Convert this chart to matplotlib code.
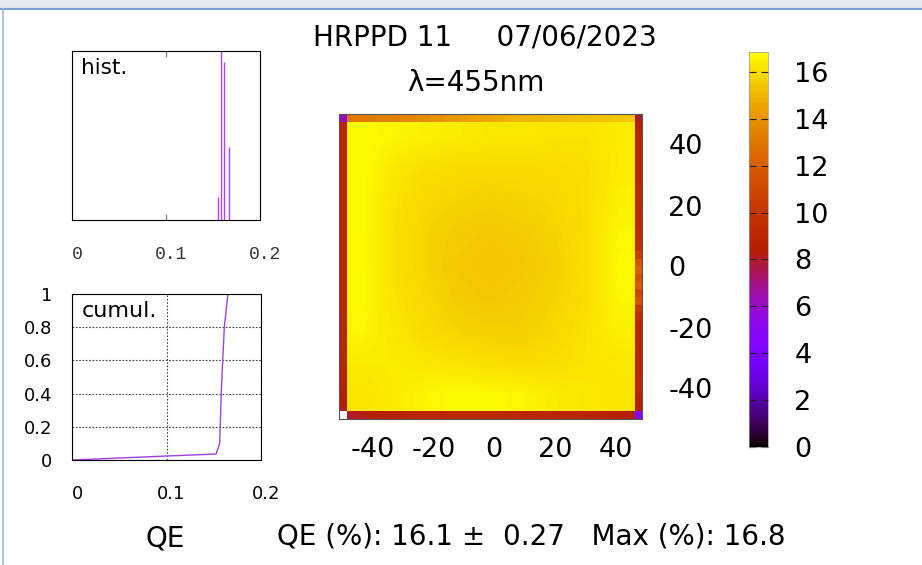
import matplotlib
matplotlib.use("Agg")
import matplotlib.pyplot as plt
from matplotlib.lines import Line2D
from matplotlib.patches import Rectangle
import matplotlib.transforms as mtransforms
import numpy as np

plt.rcParams['font.family'] = ['DejaVu Sans']
plt.rcParams['axes.unicode_minus'] = False

# --- data ---
title_text = "HRPPD 11     07/06/2023"
lambda_text = "λ=455nm"
stats_text = "QE (%): 16.1 \u00b1  0.27   Max (%): 16.8"

hist_x = [0.1555, 0.1588, 0.1620, 0.1665]
hist_n = [200, 1450, 1355, 625]

cum_x = [0.0, 0.05, 0.10, 0.1524, 0.1563, 0.1580, 0.1612, 0.1650]
cum_y = [0.0, 0.012, 0.024, 0.036, 0.10, 0.42, 0.80, 1.0]

# coarse read of the inner map (top row first), QE in %
inner = [
    [16.7, 16.6, 16.5, 16.4, 16.3, 16.3, 16.2, 16.2, 16.4],
    [16.7, 16.3, 16.1, 16.0, 16.0, 16.0, 16.0, 16.1, 16.4],
    [16.7, 16.2, 15.9, 15.8, 15.7, 15.8, 15.9, 16.1, 16.5],
    [16.7, 16.1, 15.8, 15.6, 15.5, 15.6, 15.8, 16.1, 16.6],
    [16.7, 16.1, 15.8, 15.5, 15.4, 15.5, 15.7, 16.1, 16.7],
    [16.7, 16.2, 15.9, 15.6, 15.5, 15.6, 15.8, 16.1, 16.6],
    [16.6, 16.3, 16.0, 15.8, 15.7, 15.7, 15.9, 16.2, 16.5],
    [16.4, 16.4, 16.3, 16.2, 16.1, 16.0, 16.1, 16.2, 16.3],
    [16.2, 16.4, 16.6, 16.7, 16.7, 16.6, 16.4, 16.3, 16.2],
]

# edge pads (left to right / top to bottom)
top_row = [6.0, 13.0, 13.1, 13.1, 13.2, 13.3, 13.3, 13.4, 13.5, 13.6, 13.7,
           13.8, 13.9, 14.0, 14.1, 14.2, 14.3, 14.4, 14.5, 14.6, 14.7,
           14.8, 14.9, 14.9, 15.0, 15.0, 15.1, 15.1, 15.2, 15.2, 15.3,
           15.3, 15.3, 15.4, 15.4, 15.4, 15.5, 15.5, 15.5, 8.0]
bottom_row = [np.nan, 8.0, 8.1, 8.2, 8.3, 8.4, 8.5, 8.6, 8.7, 8.8, 8.9,
              9.0, 9.0, 9.0, 9.1, 9.1, 9.1, 9.1, 9.1, 9.1, 9.1,
              9.1, 9.1, 9.1, 9.0, 9.0, 9.0, 9.0, 8.9, 8.9, 8.9,
              8.8, 8.8, 8.7, 8.7, 8.6, 8.5, 8.5, 8.4, 4.5]
left_col = [8.9, 9.0, 9.0, 9.0, 9.0, 9.0, 9.0, 9.0, 9.0, 9.0,
            9.0, 9.0, 9.0, 9.0, 9.0, 9.0, 9.0, 9.0, 9.0, 9.0,
            9.0, 9.0, 9.0, 9.0, 9.0, 9.0, 9.0, 8.9, 8.9, 8.9,
            8.8, 8.8, 8.7, 8.6, 8.5, 8.4, 8.3, 8.2]
right_col = [8.4, 8.8, 9.0, 9.0, 9.0, 9.0, 9.0, 9.0, 9.1, 9.1,
             9.1, 9.1, 9.2, 9.2, 9.3, 9.4, 9.6, 10.5, 11.8, 12.3,
             11.5, 12.0, 11.0, 11.6, 10.2, 9.3, 9.1, 9.0, 9.0, 9.0,
             9.0, 9.0, 9.0, 8.9, 8.9, 8.8, 8.6, 8.4]

map_xlim = (-51.25, 48.75)
map_ylim = (-50, 50)
cb_max = 16.85
map_ticks = [-40, -20, 0, 20, 40]
cb_ticks = [0, 2, 4, 6, 8, 10, 12, 14, 16]

W, H = 922, 565
fig = plt.figure(figsize=(W / 100, H / 100), dpi=100)


def box(l, t, r, b):
    return [l / W, 1 - b / H, (r - l) / W, (b - t) / H]


# window chrome
fig.patches.append(Rectangle((0, 1 - 8 / H), 1, 8 / H, transform=fig.transFigure,
                             color='#e4e9ef', zorder=0))
fig.lines.append(Line2D([0, 1], [1 - 9 / H] * 2, transform=fig.transFigure,
                        color='#7f9ed0', lw=1.5))
fig.lines.append(Line2D([3 / W] * 2, [0, 1 - 9 / H], transform=fig.transFigure,
                        color='#9fb8de', lw=1.2))

# histogram
ax_h = fig.add_axes(box(72, 51, 260, 220))
ax_h.vlines(hist_x, 0, hist_n, color='#b040f0', lw=1)
ax_h.set_xlim(0, 0.2)
ax_h.set_ylim(0, max(hist_n))
ax_h.set_yticks([])
ax_h.set_xticks([0, 0.1, 0.2])
ax_h.set_xticklabels(['0', '0.1', '0.2'], family='Liberation Mono', fontsize=13,
                     color='#333333')
ax_h.tick_params(axis='x', direction='in', length=0, pad=19)
ax_h.axvline(0.1, ymin=0, ymax=0.03, color='#888888', lw=1)
ax_h.axvline(0.1, ymin=0.97, ymax=1, color='#888888', lw=1)
ax_h.text(0.05, 0.9, 'hist.', transform=ax_h.transAxes, fontsize=15.5, va='center')

# cumulative
ax_c = fig.add_axes(box(72, 294, 261, 460))
ax_c.plot(cum_x, cum_y, color='#a040e0', lw=1)
ax_c.set_xlim(0, 0.2)
ax_c.set_ylim(0, 1)
ax_c.set_xticks([0, 0.1, 0.2])
ax_c.set_xticklabels(['0', '0.1', '0.2'])
ax_c.set_yticks([0, 0.2, 0.4, 0.6, 0.8, 1])
ax_c.set_yticklabels(['0', '0.2', '0.4', '0.6', '0.8', '1'])
ax_c.tick_params(axis='x', length=0, pad=18, labelsize=13)
ax_c.tick_params(axis='y', length=0, pad=14, labelsize=13)
ax_c.grid(True, linestyle=(0, (1.5, 1.5)), color='#444444', lw=0.8)
ax_c.text(0.05, 0.9, 'cumul.', transform=ax_c.transAxes, fontsize=16, va='center')

for ax in (ax_h, ax_c):
    off = mtransforms.ScaledTranslation(5 / 100, 0, fig.dpi_scale_trans)
    for lab in ax.get_xticklabels():
        lab.set_transform(lab.get_transform() + off)

# map
ax_m = fig.add_axes(box(339, 114, 642, 419))
full = np.full((40, 40), np.nan)
full[0, :] = top_row
full[-1, :] = bottom_row
full[1:-1, 0] = left_col
full[1:-1, -1] = right_col
dx = (map_xlim[1] - map_xlim[0]) / 40
dy = (map_ylim[1] - map_ylim[0]) / 40
ax_m.imshow(np.array(inner), cmap='gnuplot', vmin=0, vmax=cb_max,
            interpolation='bilinear', aspect='auto', origin='upper',
            extent=(map_xlim[0] + dx, map_xlim[1] - dx, map_ylim[0] + dy, map_ylim[1] - dy),
            zorder=1)
im = ax_m.imshow(full, cmap='gnuplot', vmin=0, vmax=cb_max, interpolation='nearest',
                 aspect='auto', origin='upper',
                 extent=(map_xlim[0], map_xlim[1], map_ylim[0], map_ylim[1]), zorder=2)
ax_m.set_xlim(*map_xlim)
ax_m.set_ylim(*map_ylim)
ax_m.set_xticks(map_ticks)
ax_m.set_yticks(map_ticks)
ax_m.yaxis.tick_right()
ax_m.tick_params(axis='both', length=0, labelsize=19.5)
ax_m.tick_params(axis='x', pad=13)
ax_m.tick_params(axis='y', pad=19)
for lab in ax_m.get_yticklabels():
    lab.set_horizontalalignment('left')
for sp in ax_m.spines.values():
    sp.set_linewidth(0.8)
    sp.set_color('#555555')

# colorbar
cax = fig.add_axes(box(749, 52, 768, 447))
cb = fig.colorbar(im, cax=cax)
cb.set_ticks(cb_ticks)
cb.outline.set_linewidth(0.5)
cb.outline.set_edgecolor('#999999')
cax.tick_params(axis='y', which='both', direction='in', length=5, width=0.8,
                left=True, right=True, labelsize=19.5, pad=19, color='#222222')
cax.minorticks_off()

# texts
fig.text(485 / W, 1 - 38 / H, title_text, ha='center', va='center', fontsize=20)
fig.text(476 / W, 1 - 83 / H, lambda_text, ha='center', va='center', fontsize=20)
fig.text(165 / W, 1 - 538 / H, 'QE', ha='center', va='center', fontsize=20)
fig.text(531 / W, 1 - 536 / H, stats_text, ha='center', va='center', fontsize=20)

fig.savefig('out.png', dpi=100)
